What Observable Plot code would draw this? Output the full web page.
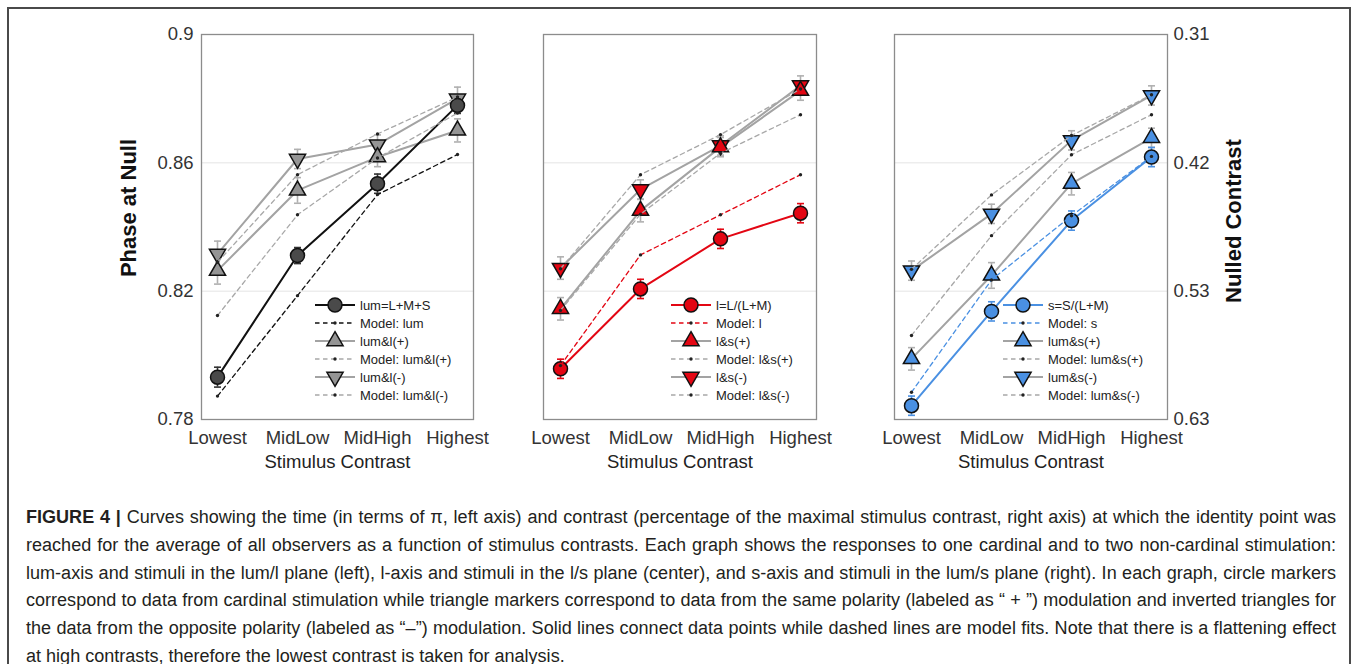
<!DOCTYPE html>
<html><head><meta charset="utf-8">
<script src="https://cdn.jsdelivr.net/npm/d3@7"></script>
<script src="https://cdn.jsdelivr.net/npm/@observablehq/plot@0.6"></script>
<style>
body{margin:0;background:#fff;width:1358px;height:664px;overflow:hidden;position:relative;font-family:"Liberation Sans",Arial,Helvetica,sans-serif;}
#outer{position:absolute;left:7px;top:7px;width:1344px;height:720px;border:2px solid #4a4a4a;box-sizing:border-box;}
.panel{position:absolute;top:0;}
#caption{position:absolute;left:26px;top:504px;width:1310px;font-size:17px;line-height:27.8px;color:#231f20;}
#caption div{white-space:nowrap;}
#caption.just div{text-align:justify;text-align-last:justify;}
#caption.just div.last{text-align-last:left;}
</style></head><body>
<div id="outer"></div>
<div id="p1" class="panel" style="left:0px"></div>
<div id="p2" class="panel" style="left:480px"></div>
<div id="p3" class="panel" style="left:880px"></div>
<div id="caption"></div>
<script>
// ---------- data ----------
const levels = ["Lowest", "MidLow", "MidHigh", "Highest"];
const yTicks = [0.78, 0.82, 0.86, 0.9];
const leftTickLabels = ["0.78", "0.82", "0.86", "0.9"];
const rightTickLabels = ["0.63", "0.53", "0.42", "0.31"];
const xTitle = "Stimulus Contrast";
const leftTitle = "Phase at Null";
const rightTitle = "Nulled Contrast";

// panel 1: lum / l plane
const lum = [0.7932, 0.8311, 0.8535, 0.8779];
const lumErr = [0.0031, 0.0025, 0.003, 0.0025];
const modelLum = [0.7873, 0.8186, 0.8501, 0.8626];
const lumLp = [0.8264, 0.8514, 0.8618, 0.8701];
const lumLpErr = [0.0042, 0.004, 0.003, 0.0036];
const modelLumLp = [0.8124, 0.8438, 0.8615, 0.8755];
const lumLm = [0.8316, 0.8612, 0.8657, 0.8800];
const lumLmErr = [0.004, 0.003, 0.003, 0.0036];
const modelLumLm = [0.8290, 0.8563, 0.8690, 0.8805];

// panel 2: l / s plane
const lCard = [0.7958, 0.8207, 0.8363, 0.8443];
const lCardErr = [0.003, 0.003, 0.003, 0.003];
const modelL = [0.7968, 0.8313, 0.8438, 0.8563];
const lsP = [0.8145, 0.8451, 0.8649, 0.8825];
const lsPErr = [0.0035, 0.0035, 0.003, 0.003];
const modelLsP = [0.8140, 0.8440, 0.8630, 0.8750];
const lsM = [0.8272, 0.8517, 0.8654, 0.8841];
const lsMErr = [0.0035, 0.003, 0.003, 0.003];
const modelLsM = [0.8270, 0.8563, 0.8688, 0.8830];

// panel 3: lum / s plane
const sCard = [0.7843, 0.8137, 0.8420, 0.8618];
const sCardErr = [0.003, 0.003, 0.003, 0.003];
const modelS = [0.7885, 0.8235, 0.8435, 0.8620];
const lumSp = [0.7989, 0.8249, 0.8535, 0.8678];
const lumSpErr = [0.0035, 0.004, 0.0035, 0.003];
const modelLumSp = [0.8062, 0.8373, 0.8625, 0.8750];
const lumSm = [0.8264, 0.8441, 0.8670, 0.8810];
const lumSmErr = [0.003, 0.003, 0.003, 0.003];
const modelLumSm = [0.8268, 0.8500, 0.8685, 0.8812];

const captionLines = [
  "<b>FIGURE 4 |</b> Curves showing the time (in terms of π, left axis) and contrast (percentage of the maximal stimulus contrast, right axis) at which the identity point was",
  "reached for the average of all observers as a function of stimulus contrasts. Each graph shows the responses to one cardinal and to two non-cardinal stimulation:",
  "lum-axis and stimuli in the lum/l plane (left), l-axis and stimuli in the l/s plane (center), and s-axis and stimuli in the lum/s plane (right). In each graph, circle markers",
  "correspond to data from cardinal stimulation while triangle markers correspond to data from the same polarity (labeled as “ + ”) modulation and inverted triangles for",
  "the data from the opposite polarity (labeled as “–”) modulation. Solid lines connect data points while dashed lines are model fits. Note that there is a flattening effect",
  "at high contrasts, therefore the lowest contrast is taken for analysis."
];

// ---------- symbols ----------
const sqrt3 = Math.sqrt(3);
const triUp = {draw(ctx, size) {const y = -Math.sqrt(size / (sqrt3 * 3)); ctx.moveTo(0, y * 2); ctx.lineTo(-sqrt3 * y, -y); ctx.lineTo(sqrt3 * y, -y); ctx.closePath();}};
const triDown = {draw(ctx, size) {const y = -Math.sqrt(size / (sqrt3 * 3)); ctx.moveTo(0, -y * 2); ctx.lineTo(-sqrt3 * y, y); ctx.lineTo(sqrt3 * y, y); ctx.closePath();}};
const cap = {draw(ctx) {ctx.moveTo(-3.5, 0); ctx.lineTo(3.5, 0);}};
const circ = d3.symbolCircle;

const GRAYL = "#a3a3a3", GRAYF = "#959595", GRAYE = "#b0b0b0", GRAYD = "#a8a8a8";
const RED = "#e30613", BLUE = "#4a90e2";

const panels = [
  {id: "p1", width: 480, ml: 201, mr: 7, left: true, right: false, legendDx: 114,
   series: [
     {label: "lum=L+M+S", v: lum, e: lumErr, line: "#111", fill: "#4a4a4a", err: "#333", sym: circ, r: 7},
     {label: "Model: lum", v: modelLum, model: true, line: "#111"},
     {label: "lum&l(+)", v: lumLp, e: lumLpErr, line: GRAYL, fill: GRAYF, err: GRAYE, sym: triUp, r: 6},
     {label: "Model: lum&l(+)", v: modelLumLp, model: true, line: GRAYD},
     {label: "lum&l(-)", v: lumLm, e: lumLmErr, line: GRAYL, fill: GRAYF, err: GRAYE, sym: triDown, r: 6},
     {label: "Model: lum&l(-)", v: modelLumLm, model: true, line: GRAYD}
   ]},
  {id: "p2", width: 400, ml: 63, mr: 64, left: false, right: false, legendDx: 128,
   series: [
     {label: "l=L/(L+M)", v: lCard, e: lCardErr, line: RED, fill: RED, err: RED, sym: circ, r: 7},
     {label: "Model: l", v: modelL, model: true, line: RED},
     {label: "l&s(+)", v: lsP, e: lsPErr, line: GRAYL, fill: RED, err: GRAYE, sym: triUp, r: 6},
     {label: "Model: l&s(+)", v: modelLsP, model: true, line: GRAYD},
     {label: "l&s(-)", v: lsM, e: lsMErr, line: GRAYL, fill: RED, err: GRAYE, sym: triDown, r: 6},
     {label: "Model: l&s(-)", v: modelLsM, model: true, line: GRAYD}
   ]},
  {id: "p3", width: 478, ml: 14, mr: 191, left: false, right: true, legendDx: 109,
   series: [
     {label: "s=S/(L+M)", v: sCard, e: sCardErr, line: BLUE, fill: BLUE, err: BLUE, sym: circ, r: 7},
     {label: "Model: s", v: modelS, model: true, line: BLUE},
     {label: "lum&s(+)", v: lumSp, e: lumSpErr, line: GRAYL, fill: BLUE, err: GRAYE, sym: triUp, r: 6},
     {label: "Model: lum&s(+)", v: modelLumSp, model: true, line: GRAYD},
     {label: "lum&s(-)", v: lumSm, e: lumSmErr, line: GRAYL, fill: BLUE, err: GRAYE, sym: triDown, r: 6},
     {label: "Model: lum&s(-)", v: modelLumSm, model: true, line: GRAYD}
   ]}
];

const H = 480, MT = 34, MB = 61;
const DASH = "4.5,3.5";

for (const p of panels) {
  const rowsOf = s => s.v.map((y, i) => ({x: levels[i], y, e: s.e ? s.e[i] : 0}));
  const marks = [
    Plot.ruleY([0.82, 0.86], {stroke: "#e4e4e4", strokeWidth: 1}),
    Plot.frame({stroke: "#8c8c8c", strokeWidth: 1.3}),
    Plot.axisX({anchor: "bottom", tickSize: 0, tickPadding: 11, label: null, fontSize: 18.5}),
    Plot.text([xTitle], {frameAnchor: "bottom", dy: 43, lineAnchor: "middle", textAnchor: "middle", fontSize: 18.5, fill: "#222"})
  ];
  if (p.left) {
    marks.push(Plot.axisY(yTicks, {anchor: "left", tickSize: 0, tickPadding: 8, label: null, fontSize: 18.5,
      tickFormat: d => leftTickLabels[yTicks.indexOf(d)]}));
    marks.push(Plot.text([leftTitle], {frameAnchor: "left", dx: -73, dy: -19, rotate: -90, textAnchor: "middle", lineAnchor: "middle", fontSize: 22, fontWeight: "bold", fill: "#111"}));
  }
  if (p.right) {
    marks.push(Plot.axisY(yTicks, {anchor: "right", tickSize: 0, tickPadding: 6, label: null, fontSize: 18.5,
      tickFormat: d => rightTickLabels[yTicks.indexOf(d)]}));
    marks.push(Plot.text([rightTitle], {frameAnchor: "right", dx: 66, dy: -6, rotate: -90, textAnchor: "middle", lineAnchor: "middle", fontSize: 22, fontWeight: "bold", fill: "#111"}));
  }
  const data = p.series.filter(s => !s.model).reverse();
  const models = p.series.filter(s => s.model).reverse();
  for (const s of data) marks.push(Plot.line(rowsOf(s), {x: "x", y: "y", stroke: s.line, strokeWidth: 2}));
  for (const s of data) {
    marks.push(Plot.ruleX(rowsOf(s), {x: "x", y1: d => d.y - d.e, y2: d => d.y + d.e, stroke: s.err, strokeWidth: 1.6}));
    marks.push(Plot.dot(rowsOf(s), {x: "x", y: d => d.y - d.e, symbol: cap, fill: "none", stroke: s.err, strokeWidth: 1.6}));
    marks.push(Plot.dot(rowsOf(s), {x: "x", y: d => d.y + d.e, symbol: cap, fill: "none", stroke: s.err, strokeWidth: 1.6}));
  }
  for (const s of data) marks.push(Plot.dot(rowsOf(s), {x: "x", y: "y", symbol: s.sym, r: s.r, fill: s.fill, stroke: "#111", strokeWidth: 1.5}));
  for (const s of models) {
    marks.push(Plot.line(rowsOf(s), {x: "x", y: "y", stroke: s.line, strokeWidth: 1.3, strokeDasharray: DASH}));
    marks.push(Plot.dot(rowsOf(s), {x: "x", y: "y", r: 1.7, fill: "#222"}));
  }
  const chart = Plot.plot({
    width: p.width, height: H, marginLeft: p.ml, marginRight: p.mr, marginTop: MT, marginBottom: MB,
    style: {background: "transparent", color: "#333", fontFamily: "'Liberation Sans', Arial, Helvetica, sans-serif", fontSize: "18.5px", overflow: "visible"},
    x: {type: "point", domain: levels, padding: 0.2, axis: null},
    y: {domain: [0.78, 0.9], axis: null},
    marks
  });
  // legend (drawn into the same svg)
  const svg = d3.select(chart);
  const lg = svg.append("g").attr("transform", `translate(${p.ml + p.legendDx},${MT + 271})`);
  p.series.forEach((s, i) => {
    const g = lg.append("g").attr("transform", `translate(0,${i * 18})`);
    g.append("line").attr("x1", 0).attr("x2", 40).attr("y1", 0).attr("y2", 0)
      .attr("stroke", s.line).attr("stroke-width", s.model ? 1.3 : 2)
      .attr("stroke-dasharray", s.model ? DASH : null);
    if (s.model) {
      g.append("circle").attr("cx", 20).attr("cy", 0).attr("r", 1.7).attr("fill", "#222");
    } else {
      g.append("path").attr("transform", "translate(20,0)")
        .attr("d", d3.symbol(s.sym, Math.PI * s.r * s.r)())
        .attr("fill", s.fill).attr("stroke", "#111").attr("stroke-width", 1.5);
    }
    g.append("text").attr("x", 45).attr("y", 0).attr("dy", "0.35em")
      .attr("text-anchor", "start").attr("font-size", 13).attr("fill", "#222").text(s.label);
  });
  document.getElementById(p.id).appendChild(chart);
}

// ---------- caption ----------
const capEl = document.getElementById("caption");
const spans = captionLines.map((t, i) => {
  const div = document.createElement("div");
  if (i === captionLines.length - 1) div.className = "last";
  const sp = document.createElement("span");
  sp.innerHTML = t;
  div.appendChild(sp);
  capEl.appendChild(div);
  return sp;
});
const base = 17;
const maxW = Math.max(...spans.slice(0, -1).map(s => s.getBoundingClientRect().width));
const fs = Math.min(18.5, base * 1306 / maxW);
capEl.style.fontSize = fs + "px";
capEl.classList.add("just");
</script>
</body></html>
